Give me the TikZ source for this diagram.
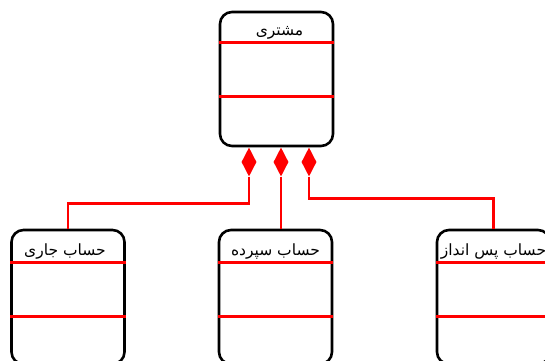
\documentclass[tikz,border=0pt]{standalone}
\usepackage{fontspec}
\newfontfamily\arabicfont[Script=Arabic]{DejaVu Sans}
\TeXXeTstate=1
\usepackage{tikz}
\usetikzlibrary{positioning,shapes.geometric,calc}
\definecolor{rouge}{RGB}{255,0,0}

\begin{document}
\begin{tikzpicture}[x=1pt, y=-1pt,
	classe/.style={draw=black, line width=2.6pt, rounded corners=12pt, minimum width=113pt, minimum height=134pt, inner sep=0pt},
	losange/.style={diamond, fill=rouge, inner sep=0pt, minimum width=15pt, minimum height=29pt},
	lien/.style={draw=rouge, line width=2.6pt},
	titre/.style={font=\arabicfont\fontsize{15.5}{18}\selectfont}]
				\useasboundingbox (0,0) rectangle (545,360);
				\clip (0,0) rectangle (545,360);
				
				% Classe principale
				\node[classe] (client) at (276.5,79) {};
				\node[titre] (tclient) at ($(client.north)+(3,22)$) {\beginR مشتری\endR};
				\draw[lien] ($(client.north west)+(0,32)$) -- ($(client.north east)+(0,32)$);
				\draw[lien] ($(client.north west)+(0,86)$) -- ($(client.north east)+(0,86)$);
				
				% Classes des comptes
				\node[classe] (jari) at (68,297) {};
				\node[classe] (sepordeh) at (275.5,297) {};
				\node[classe] (pasandaz) at (493.5,297) {};
				\node[titre] (tjari) at ($(jari.north)+(-3,23)$) {\beginR حساب جاری\endR};
				\node[titre] (tsepordeh) at ($(sepordeh.north)+(0,23)$) {\beginR حساب سپرده\endR};
				\node[titre] (tpasandaz) at ($(pasandaz.north)+(0,23)$) {\beginR حساب پس انداز\endR};
				\foreach \c in {jari,sepordeh,pasandaz} {
					\draw[lien] ($(\c.north west)+(0,34)$) -- ($(\c.north east)+(0,34)$);
					\draw[lien] ($(\c.north west)+(0,88)$) -- ($(\c.north east)+(0,88)$);
				}
				
				% Compositions
				\node[losange, anchor=north] (d1) at ($(client.south)+(-27.5,0)$) {};
				\node[losange, anchor=north] (d2) at ($(client.south)+(4.5,0)$) {};
				\node[losange, anchor=north] (d3) at ($(client.south)+(32.5,0)$) {};
				\draw[lien] (d1.south) -- ++(0,27) -| (jari.north);
				\draw[lien] (d2.south) -- (d2.south |- sepordeh.north);
				\draw[lien] (d3.south) -- ++(0,22) -| (pasandaz.north);
			\end{tikzpicture}
\end{document}
